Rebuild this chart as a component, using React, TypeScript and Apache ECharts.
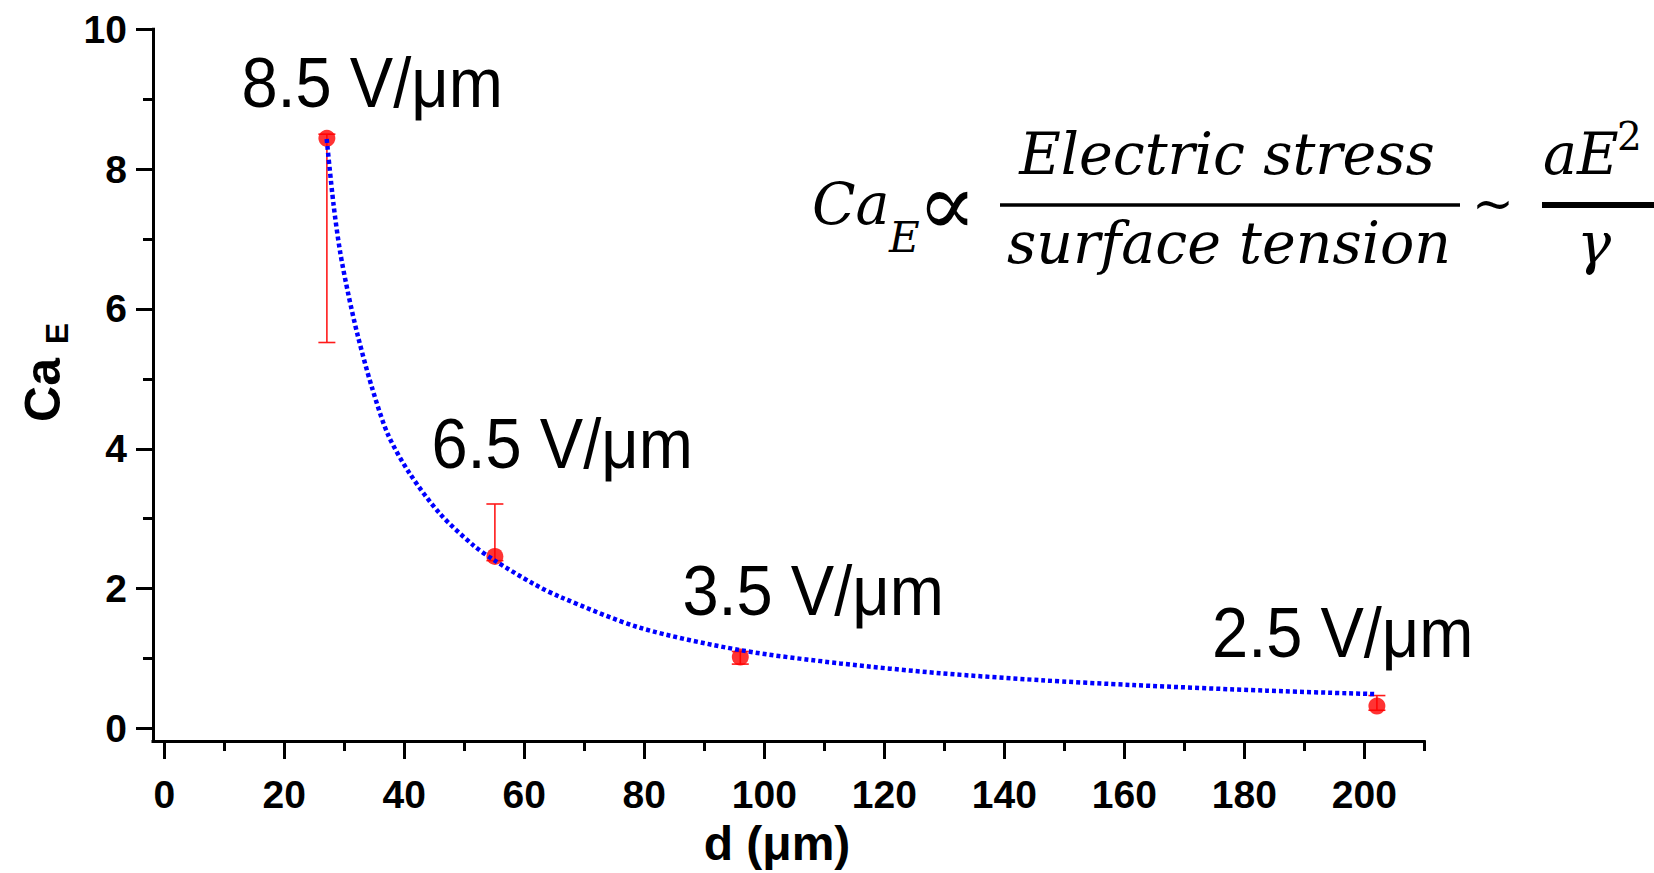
import React, { useEffect, useRef } from "react";
import * as echarts from "echarts";

// ---- data ----
const xMajorTicks = [0, 20, 40, 60, 80, 100, 120, 140, 160, 180, 200];
const xMinorTicks = [10, 30, 50, 70, 90, 110, 130, 150, 170, 190, 210];
const yMajorTicks = [0, 2, 4, 6, 8, 10];
const yMinorTicks = [1, 3, 5, 7, 9];

const gapD = [27.1, 55.1, 96.0, 202.1];
const caE = [8.44, 2.46, 1.02, 0.32];
const errLow = [5.52, 2.4, 0.92, 0.26];
const errHigh = [8.5, 3.21, 1.1, 0.47];
const fieldLabels = ["8.5 V/\u03bcm", "6.5 V/\u03bcm", "3.5 V/\u03bcm", "2.5 V/\u03bcm"];

const fitD = [27.07, 28.2, 29.3, 30.7, 32.3, 34.6, 37.3, 40.95, 45.95, 51.5, 55.1, 61.5, 66.0, 79.3, 96.0, 112.6, 129.3, 146.0, 161.5, 183.7, 202.1];
const fitCa = [8.43, 7.5, 6.82, 6.2, 5.6, 4.88, 4.2, 3.64, 3.07, 2.62, 2.4, 2.07, 1.88, 1.44, 1.12, 0.93, 0.79, 0.69, 0.62, 0.54, 0.49];

const X_MIN = -1.88;
const X_MAX = 210;
const Y_MIN = -0.18;
const Y_MAX = 10;

const labelPos = [
  [241.4, 83.2],
  [431.4, 444.2],
  [682.4, 590.9],
  [1212, 632.6],
];

const tickFont = { color: "#000", fontFamily: "Liberation Sans", fontWeight: "bold" as const, fontSize: 39 };
const axisLineStyle = { color: "#000", width: 3 };

export default function App() {
  const ref = useRef<HTMLDivElement>(null);

  useEffect(() => {
    document.body.style.margin = "0";
    if (!ref.current) return;
    const chart = echarts.init(ref.current, undefined, { renderer: "svg" });

    const serif = '"DejaVu Serif", "DejaVu Sans", serif';
    const txt = (text: string, x: number, y: number, font: string, align = "left", extra: any = {}) => ({
      type: "text",
      x,
      y,
      silent: true,
      ...extra,
      style: {
        text,
        font,
        fill: "#000",
        align,
        textAlign: align,
        verticalAlign: "middle",
        textVerticalAlign: "middle",
      },
    });

    const graphic: any[] = [
      // y axis name Ca_E (rotated)
      txt("Ca", 42.7, 390, 'bold 50px "Liberation Sans"', "center", { rotation: Math.PI / 2 }),
      txt("E", 56.9, 333.5, 'bold 32px "Liberation Sans"', "center", { rotation: Math.PI / 2 }),
      // x axis name
      txt("d (\u03bcm)", 777, 843.4, 'bold 48px "Liberation Sans"', "center"),
      // formula
      txt("Ca", 812, 204, `italic 57px ${serif}`),
      txt("E", 889, 237, `italic 42px ${serif}`),
      txt("\u221d", 947, 204, `88px ${serif}`, "center"),
      txt("Electric stress", 1227, 154.3, `italic 57px ${serif}`, "center"),
      {
        type: "line",
        silent: true,
        shape: { x1: 1000, y1: 205, x2: 1460, y2: 205 },
        style: { stroke: "#000", lineWidth: 3.5 },
      },
      txt("surface tension", 1229, 243.3, `italic 57px ${serif}`, "center"),
      txt("~", 1493, 204, `50px ${serif}`, "center"),
      txt("aE", 1543, 154.3, `italic 57px ${serif}`),
      txt("2", 1617, 136.5, `39px ${serif}`),
      {
        type: "line",
        silent: true,
        shape: { x1: 1542, y1: 205, x2: 1660, y2: 205 },
        style: { stroke: "#000", lineWidth: 6 },
      },
      txt("\u03b3", 1594, 243.3, `italic 57px ${serif}`, "center"),
      // field strength annotations
      ...fieldLabels.map((t, i) =>
        txt(t, labelPos[i][0], labelPos[i][1], '65px "Liberation Sans"', "left", { scaleY: 1.07 })
      ),
    ];

    const option: any = {
      animation: false,
      backgroundColor: "#fff",
      grid: { left: 153, right: 229.7, top: 29.3, bottom: 132, containLabel: false },
      xAxis: [
        {
          type: "value",
          min: X_MIN,
          max: X_MAX,
          position: "bottom",
          axisLine: { show: true, onZero: false, lineStyle: { ...axisLineStyle, cap: "square" } },
          axisTick: { show: true, length: 18, customValues: xMajorTicks, lineStyle: axisLineStyle },
          axisLabel: { ...tickFont, margin: 34, customValues: xMajorTicks },
          splitLine: { show: false },
        },
        {
          type: "value",
          min: X_MIN,
          max: X_MAX,
          position: "bottom",
          axisLine: { show: false, onZero: false },
          axisTick: { show: true, length: 10, customValues: xMinorTicks, lineStyle: axisLineStyle },
          axisLabel: { show: false },
          splitLine: { show: false },
        },
      ],
      yAxis: [
        {
          type: "value",
          min: Y_MIN,
          max: Y_MAX,
          position: "left",
          axisLine: { show: true, onZero: false, lineStyle: { ...axisLineStyle, cap: "square" } },
          axisTick: { show: true, length: 17, customValues: yMajorTicks, lineStyle: axisLineStyle },
          axisLabel: { ...tickFont, margin: 26, customValues: yMajorTicks },
          splitLine: { show: false },
        },
        {
          type: "value",
          min: Y_MIN,
          max: Y_MAX,
          position: "left",
          axisLine: { show: false, onZero: false },
          axisTick: { show: true, length: 10, customValues: yMinorTicks, lineStyle: axisLineStyle },
          axisLabel: { show: false },
          splitLine: { show: false },
        },
      ],
      series: [
        {
          type: "custom",
          name: "error",
          xAxisIndex: 0,
          yAxisIndex: 0,
          silent: true,
          encode: { x: 0, y: [1, 2] },
          data: gapD.map((d, i) => [d, errLow[i], errHigh[i]]),
          renderItem: (params: any, api: any) => {
            const x = api.value(0);
            const lo = api.coord([x, api.value(1)]);
            const hi = api.coord([x, api.value(2)]);
            const half = 8.5;
            const style = { stroke: "#ff1a1a", lineWidth: 1.6 };
            return {
              type: "group",
              children: [
                { type: "line", shape: { x1: lo[0], y1: lo[1], x2: hi[0], y2: hi[1] }, style },
                { type: "line", shape: { x1: lo[0] - half, y1: lo[1], x2: lo[0] + half, y2: lo[1] }, style },
                { type: "line", shape: { x1: hi[0] - half, y1: hi[1], x2: hi[0] + half, y2: hi[1] }, style },
              ],
            };
          },
        },
        {
          type: "scatter",
          name: "Ca_E",
          xAxisIndex: 0,
          yAxisIndex: 0,
          silent: true,
          symbol: "circle",
          symbolSize: 17,
          itemStyle: { color: "#ff0000" },
          data: gapD.map((d, i) => [d, caE[i]]),
        },
        {
          type: "line",
          name: "fit",
          xAxisIndex: 0,
          yAxisIndex: 0,
          silent: true,
          showSymbol: false,
          symbol: "none",
          smooth: 0.3,
          lineStyle: { color: "#0000ff", width: 4.5, type: [4, 3] },
          data: fitD.map((d, i) => [d, fitCa[i]]),
        },
      ],
      graphic,
    };

    chart.setOption(option);
    return () => chart.dispose();
  }, []);

  return (
    <div
      ref={ref}
      style={{ position: "fixed", left: 0, top: 0, width: 1654, height: 873, background: "#fff" }}
    />
  );
}
